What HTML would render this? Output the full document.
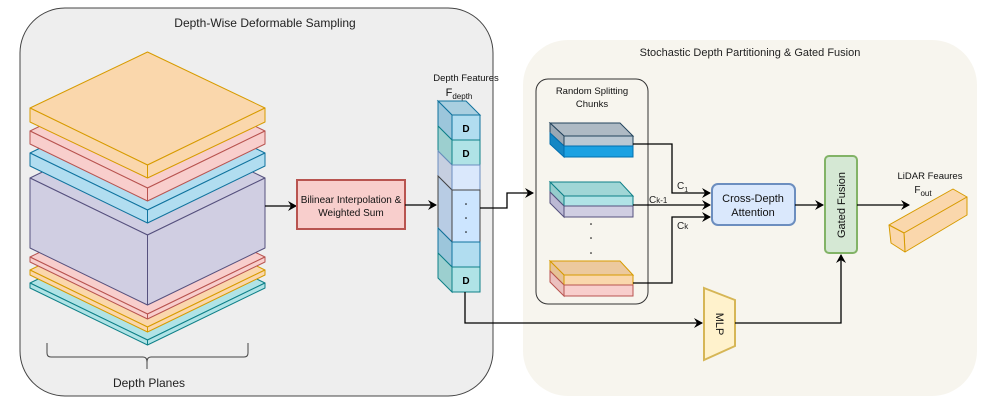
<!DOCTYPE html>
<html><head><meta charset="utf-8"><style>
html,body{margin:0;padding:0;background:#fff;}
svg{display:block;font-family:"Liberation Sans",Arial,sans-serif;}
</style></head><body>
<svg width="997" height="404" viewBox="0 0 997 404" xmlns="http://www.w3.org/2000/svg">
<defs>
<marker id="ar" markerWidth="10" markerHeight="10" refX="8" refY="5" orient="auto" markerUnits="userSpaceOnUse">
<path d="M0,0 L9,5 L0,10 L3,5 Z" fill="#000"/>
</marker>
</defs>
<!-- left panel -->
<rect x="20" y="8" width="473" height="388" rx="45" fill="#eeeeee" stroke="#444" stroke-width="1"/>
<text x="265" y="27" font-size="12" text-anchor="middle" fill="#222">Depth-Wise Deformable Sampling</text>
<!-- right panel -->
<rect x="523" y="40" width="454" height="356" rx="45" fill="#f7f5ee"/>
<text x="750" y="56" font-size="11" text-anchor="middle" fill="#222">Stochastic Depth Partitioning &amp; Gated Fusion</text>

<!-- plates -->
<g stroke-width="1" stroke-linejoin="round">
<!-- teal L=283 -->
<g fill="#b0e3e6" stroke="#0e8088">
<polygon points="30,283 147.5,226 265,283 147.5,340"/>
<polygon points="30,283 147.5,340 147.5,345 30,288"/>
<polygon points="265,283 147.5,340 147.5,345 265,288"/>
</g>
<g fill="#fad7ac" stroke="#d79b00">
<polygon points="30,270 147.5,213 265,270 147.5,327"/>
<polygon points="30,270 147.5,327 147.5,332 30,275"/>
<polygon points="265,270 147.5,327 147.5,332 265,275"/>
</g>
<g fill="#f8cecc" stroke="#b85450">
<polygon points="30,257 147.5,200 265,257 147.5,314"/>
<polygon points="30,257 147.5,314 147.5,319 30,262"/>
<polygon points="265,257 147.5,314 147.5,319 265,262"/>
</g>
<!-- cube -->
<g fill="#d0cee2" stroke="#56517e">
<polygon points="30,178 147.5,121 265,178 147.5,235"/>
<polygon points="30,178 147.5,235 147.5,305 30,248"/>
<polygon points="265,178 147.5,235 147.5,305 265,248"/>
</g>
<g fill="#b1ddf0" stroke="#10739e">
<polygon points="30,153 147.5,96 265,153 147.5,210"/>
<polygon points="30,153 147.5,210 147.5,223 30,166"/>
<polygon points="265,153 147.5,210 147.5,223 265,166"/>
</g>
<g fill="#f8cecc" stroke="#b85450">
<polygon points="30,131 147.5,74 265,131 147.5,188"/>
<polygon points="30,131 147.5,188 147.5,201 30,144"/>
<polygon points="265,131 147.5,188 147.5,201 265,144"/>
</g>
<g fill="#fad7ac" stroke="#d79b00">
<polygon points="30,108 147.5,52 265,108 147.5,165"/>
<polygon points="30,108 147.5,165 147.5,178 30,122"/>
<polygon points="265,108 147.5,165 147.5,178 265,122"/>
</g>
</g>
<!-- brace -->
<path d="M47,343 V353 Q47,357 51,357 H143 Q147,357 147,362 V369 M147,362 Q147,357 151,357 H244 Q248,357 248,353 V343" fill="none" stroke="#444" stroke-width="1"/>
<text x="149" y="387" font-size="12" text-anchor="middle" fill="#222">Depth Planes</text>

<!-- arrow to bilinear -->
<line x1="265" y1="206" x2="296" y2="206" stroke="#000" stroke-width="1.3" marker-end="url(#ar)"/>
<rect x="297" y="180" width="108" height="49" fill="#f8cecc" stroke="#b85450" stroke-width="2"/>
<text x="351" y="203" font-size="10" text-anchor="middle" fill="#111">Bilinear Interpolation &amp;</text>
<text x="351" y="216" font-size="10" text-anchor="middle" fill="#111">Weighted Sum</text>
<line x1="405" y1="205" x2="436" y2="205" stroke="#000" stroke-width="1.3" marker-end="url(#ar)"/>

<!-- depth feature column -->
<text x="466" y="81" font-size="9.5" text-anchor="middle" fill="#111">Depth Features</text>
<text x="459" y="96" font-size="11" text-anchor="middle" fill="#111">F<tspan font-size="8" dy="3">depth</tspan></text>
<g stroke-width="1">
<polygon points="438,101 466,101 480,115 452,115" fill="#a9cfe0" stroke="#10739e"/>
<polygon points="438,101 452,115 452,140 438,126" fill="#9cc6db" stroke="#10739e"/>
<polygon points="438,126 452,140 452,165 438,151" fill="#9ccfcf" stroke="#0e8088"/>
<polygon points="438,151 452,165 452,190 438,176" fill="#c6cfe0" stroke="#6c8ebf"/>
<polygon points="438,176 452,190 452,242 438,228" fill="#b8cce4" stroke="#444"/>
<polygon points="438,228 452,242 452,267 438,253" fill="#9cc6db" stroke="#10739e"/>
<polygon points="438,253 452,267 452,292 438,278" fill="#9ccfcf" stroke="#0e8088"/>
<rect x="452" y="115" width="28" height="25" fill="#b1ddf0" stroke="#10739e"/>
<rect x="452" y="140" width="28" height="25" fill="#b0e3e6" stroke="#0e8088"/>
<rect x="452" y="165" width="28" height="25" fill="#dae8fc" stroke="#6c8ebf"/>
<rect x="452" y="190" width="28" height="52" fill="#cce5ff" stroke="#444"/>
<rect x="452" y="242" width="28" height="25" fill="#b1ddf0" stroke="#10739e"/>
<rect x="452" y="267" width="28" height="25" fill="#b0e3e6" stroke="#0e8088"/>
</g>
<g font-size="10" font-weight="bold" text-anchor="middle" fill="#000">
<text x="466" y="132">D</text><text x="466" y="157">D</text><text x="466" y="284">D</text>
</g>
<g fill="#000"><circle cx="466" cy="204" r="0.8"/><circle cx="466" cy="218" r="0.8"/><circle cx="466" cy="232" r="0.8"/></g>

<!-- connector to chunks -->
<polyline points="480,208 507,208 507,193 533,193" fill="none" stroke="#000" stroke-width="1.3" marker-end="url(#ar)"/>
<!-- bottom connector to MLP -->
<polyline points="465,292 465,323 702,323" fill="none" stroke="#000" stroke-width="1.3" marker-end="url(#ar)"/>

<!-- chunks box -->
<rect x="536" y="79" width="112" height="225" rx="12" fill="none" stroke="#333" stroke-width="1"/>
<text x="592" y="94" font-size="9.5" text-anchor="middle" fill="#111">Random Splitting</text>
<text x="592" y="107" font-size="9.5" text-anchor="middle" fill="#111">Chunks</text>

<!-- chunk1 -->
<g stroke-width="1">
<polygon points="550,123 620,123 633,136 564,136" fill="#aebac4" stroke="#23445d"/>
<polygon points="550,123 564,136 564,146 550,133" fill="#9aa8b4" stroke="#23445d"/>
<polygon points="550,133 564,146 564,157 550,144" fill="#1587c4" stroke="#006eaf"/>
<rect x="564" y="136" width="69" height="10" fill="#bac8d3" stroke="#23445d"/>
<rect x="564" y="146" width="69" height="11" fill="#1ba1e2" stroke="#006eaf"/>
<!-- chunk2 -->
<polygon points="550,182 620,182 633,196 564,196" fill="#a0d6d6" stroke="#0e8088"/>
<polygon points="550,182 564,196 564,206 550,192" fill="#96cccc" stroke="#0e8088"/>
<polygon points="550,192 564,206 564,217 550,203" fill="#bcb9d4" stroke="#56517e"/>
<rect x="564" y="196" width="69" height="10" fill="#b0e3e6" stroke="#0e8088"/>
<rect x="564" y="206" width="69" height="11" fill="#d0cee2" stroke="#56517e"/>
<!-- chunk3 -->
<polygon points="550,261 620,261 633,275 564,275" fill="#ecc99e" stroke="#d79b00"/>
<polygon points="550,261 564,275 564,285 550,271" fill="#e6c296" stroke="#d79b00"/>
<polygon points="550,271 564,285 564,296 550,282" fill="#ebc0be" stroke="#b85450"/>
<rect x="564" y="275" width="69" height="10" fill="#fad7ac" stroke="#d79b00"/>
<rect x="564" y="285" width="69" height="11" fill="#f8cecc" stroke="#b85450"/>
</g>
<g fill="#000"><circle cx="591" cy="224" r="0.8"/><circle cx="591" cy="238" r="0.8"/><circle cx="591" cy="253" r="0.8"/></g>

<!-- chunk connectors -->
<polyline points="633,144 672,144 672,193 710,193" fill="none" stroke="#000" stroke-width="1.3" marker-end="url(#ar)"/>
<line x1="633" y1="205" x2="710" y2="205" stroke="#000" stroke-width="1.3" marker-end="url(#ar)"/>
<polyline points="633,283 672,283 672,217 710,217" fill="none" stroke="#000" stroke-width="1.3" marker-end="url(#ar)"/>
<text x="677" y="189" font-size="10" fill="#222">C<tspan font-size="7" dy="3">1</tspan></text>
<text x="649" y="203" font-size="10" fill="#222">C<tspan font-size="8">k-1</tspan></text>
<text x="677" y="229" font-size="10" fill="#222">C<tspan font-size="8">k</tspan></text>

<!-- cross depth attention -->
<rect x="712" y="184" width="83" height="41" rx="6" fill="#dae8fc" stroke="#6c8ebf" stroke-width="2"/>
<text x="753" y="202" font-size="11" text-anchor="middle" fill="#111">Cross-Depth</text>
<text x="753" y="216" font-size="11" text-anchor="middle" fill="#111">Attention</text>
<line x1="795" y1="205" x2="823" y2="205" stroke="#000" stroke-width="1.3" marker-end="url(#ar)"/>

<!-- gated fusion -->
<rect x="825" y="156" width="32" height="97" rx="4" fill="#d5e8d4" stroke="#82b366" stroke-width="2"/>
<text x="0" y="0" font-size="11" text-anchor="middle" fill="#111" transform="translate(845,205) rotate(-90)">Gated Fusion</text>
<line x1="857" y1="205" x2="909" y2="205" stroke="#000" stroke-width="1.3" marker-end="url(#ar)"/>

<!-- LiDAR -->
<text x="930" y="179" font-size="9.5" text-anchor="middle" fill="#111">LiDAR Feaures</text>
<text x="923" y="193" font-size="10" text-anchor="middle" fill="#111">F<tspan font-size="8" dy="3">out</tspan></text>
<g fill="#fad7ac" stroke="#d79b00" stroke-width="1" stroke-linejoin="round">
<polygon points="889,225 953,189 967,197 904,233"/>
<polygon points="904,233 967,197 967,215 905,252"/>
<polygon points="889,225 904,233 905,252 891,243"/>
</g>

<!-- MLP -->
<polygon points="704,288 735,300 735,346 704,360" fill="#fff2cc" stroke="#d6b656" stroke-width="2"/>
<text x="0" y="0" font-size="11" text-anchor="middle" fill="#111" transform="translate(716,324) rotate(90)">MLP</text>
<polyline points="735,323 841,323 841,255" fill="none" stroke="#000" stroke-width="1.3" marker-end="url(#ar)"/>
</svg>
</body></html>
